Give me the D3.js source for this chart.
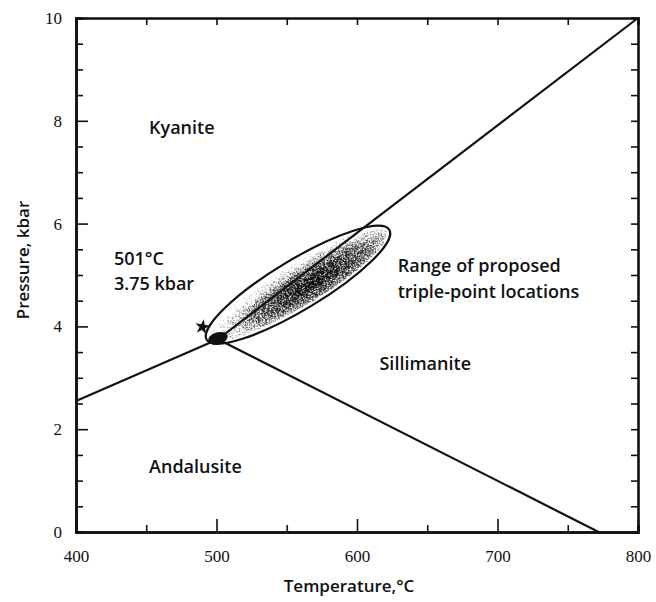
<!DOCTYPE html>
<meta charset="utf-8">
<script src="https://d3js.org/d3.v7.min.js"></script>
<style>
  body { margin: 0; background: #fff; }
  .tick text { font-family: "Liberation Serif", serif; font-size: 17px; fill: #111; }
  .lbl { font-family: "Open Sans", sans-serif; font-size: 18px; font-weight: 600; fill: #111; }
  .ttl { font-family: "Open Sans", sans-serif; font-size: 17px; font-weight: 600; fill: #111; }
</style>
<div id="chart"></div>
<script>
  // phase boundaries (temperature degC, pressure kbar)
  var triplePoint = [501, 3.75];
  var andKy = [[400, 2.55], triplePoint];
  var kySil = [triplePoint, [800, 10]];
  var andSil = [triplePoint, [772, 0]];
  // ends of the range of proposed triple points
  var rangeEnds = [[493, 3.74], [623, 5.88]];
  var starPoint = [490, 3.99];

  var xTicks = [400, 500, 600, 700, 800];
  var xMinor = [450, 550, 650, 750];
  var yTicks = [0, 2, 4, 6, 8, 10];
  var yMinor = [0.5, 1, 1.5, 2.5, 3, 3.5, 4.5, 5, 5.5, 6.5, 7, 7.5, 8.5, 9, 9.5];

  var labels = [
    {t: "Kyanite", T: 452, P: 7.75},
    {t: "501°C", T: 427, P: 5.19},
    {t: "3.75 kbar", T: 427, P: 4.70},
    {t: "Range of proposed", T: 629, P: 5.06},
    {t: "triple-point locations", T: 629, P: 4.56},
    {t: "Sillimanite", T: 616, P: 3.15},
    {t: "Andalusite", T: 452, P: 1.15}
  ];

  var W = 656, H = 602;
  var margin = {top: 18, right: 18, bottom: 70, left: 76};
  var width = W - margin.left - margin.right,
      height = H - margin.top - margin.bottom;

  var svg = d3.select("#chart").append("svg")
      .attr("width", W).attr("height", H);
  var defs = svg.append("defs");

  var g = svg.append("g")
      .attr("transform", "translate(" + margin.left + "," + margin.top + ")");

  var x = d3.scaleLinear().domain([400, 800]).range([0, width]);
  var y = d3.scaleLinear().domain([0, 10]).range([height, 0]);

  // stipple texture for the range ellipse
  var grad = defs.append("radialGradient").attr("id", "dens")
      .attr("cx", 0.56).attr("cy", 0.62).attr("r", 0.58);
  grad.append("stop").attr("offset", "0%").attr("stop-color", "#000").attr("stop-opacity", 1);
  grad.append("stop").attr("offset", "55%").attr("stop-color", "#000").attr("stop-opacity", 0.82);
  grad.append("stop").attr("offset", "100%").attr("stop-color", "#000").attr("stop-opacity", 0.4);

  var f = defs.append("filter").attr("id", "stip")
      .attr("x", 0).attr("y", 0).attr("width", 1).attr("height", 1);
  f.append("feTurbulence").attr("type", "fractalNoise")
      .attr("baseFrequency", 0.9).attr("numOctaves", 2).attr("seed", 3).attr("result", "n");
  f.append("feColorMatrix").attr("in", "n").attr("type", "matrix")
      .attr("values", "0 0 0 0 0  0 0 0 0 0  0 0 0 0 0  1 0 0 0 0").attr("result", "na");
  f.append("feComposite").attr("in", "na").attr("in2", "SourceGraphic")
      .attr("operator", "arithmetic")
      .attr("k1", 0).attr("k2", 6).attr("k3", 4).attr("k4", -5.6).attr("result", "d");
  f.append("feComposite").attr("in", "d").attr("in2", "SourceGraphic").attr("operator", "in");

  // ellipse geometry from its two ends
  var e0 = [x(rangeEnds[0][0]), y(rangeEnds[0][1])],
      e1 = [x(rangeEnds[1][0]), y(rangeEnds[1][1])];
  var ecx = (e0[0] + e1[0]) / 2, ecy = (e0[1] + e1[1]) / 2;
  var ea = Math.hypot(e1[0] - e0[0], e1[1] - e0[1]) / 2;
  var eang = Math.atan2(e1[1] - e0[1], e1[0] - e0[0]) * 180 / Math.PI;
  var eb = 25;

  var eg = g.append("g")
      .attr("transform", "translate(" + ecx + "," + ecy + ") rotate(" + eang + ")");
  eg.append("ellipse").attr("rx", ea - 3).attr("ry", eb - 3)
      .attr("fill", "url(#dens)").attr("filter", "url(#stip)");
  eg.append("ellipse").attr("rx", ea).attr("ry", eb)
      .attr("fill", "none").attr("stroke", "#111").attr("stroke-width", 2.2);

  // boundaries
  var line = d3.line().x(function(d) { return x(d[0]); }).y(function(d) { return y(d[1]); });
  [andKy, kySil, andSil].forEach(function(seg) {
    g.append("path").attr("d", line(seg))
      .attr("fill", "none").attr("stroke", "#111").attr("stroke-width", 2.2);
  });

  // triple point marker and star
  g.append("ellipse")
      .attr("transform", "translate(" + x(triplePoint[0]) + "," + (y(triplePoint[1]) - 1) + ") rotate(-15)")
      .attr("rx", 10).attr("ry", 6).attr("fill", "#111");
  g.append("path")
      .attr("transform", "translate(" + x(starPoint[0]) + "," + y(starPoint[1]) + ") rotate(10)")
      .attr("d", d3.symbol().type(d3.symbolStar).size(70)())
      .attr("fill", "#111");

  // axes
  function styleAxis(sel) {
    sel.select(".domain").attr("stroke", "#111").attr("stroke-width", 2.6);
    sel.selectAll(".tick line").attr("stroke", "#111").attr("stroke-width", 1.6);
  }
  g.append("g").attr("transform", "translate(0," + height + ")")
      .call(d3.axisBottom(x).tickValues(xTicks).tickSizeInner(-13).tickSizeOuter(0).tickPadding(18).tickFormat(d3.format("d")))
      .call(styleAxis);
  g.append("g").attr("transform", "translate(0," + height + ")")
      .call(d3.axisBottom(x).tickValues(xMinor).tickSize(-7).tickFormat(""))
      .call(styleAxis);
  g.append("g")
      .call(d3.axisTop(x).tickValues(xTicks.concat(xMinor)).tickSize(-7).tickFormat(""))
      .call(styleAxis);
  g.append("g")
      .call(d3.axisLeft(y).tickValues(yTicks).tickSizeInner(-12).tickSizeOuter(0).tickPadding(14).tickFormat(d3.format("d")))
      .call(styleAxis);
  g.append("g")
      .call(d3.axisLeft(y).tickValues(yMinor).tickSize(-7).tickFormat(""))
      .call(styleAxis);
  g.append("g").attr("transform", "translate(" + width + ",0)")
      .call(d3.axisRight(y).tickValues(yTicks.concat(yMinor)).tickSize(-7).tickFormat(""))
      .call(styleAxis);

  // region labels
  g.selectAll(".lbl").data(labels).enter().append("text")
      .attr("class", "lbl")
      .attr("x", function(d) { return x(d.T); })
      .attr("y", function(d) { return y(d.P); })
      .text(function(d) { return d.t; });

  // axis titles
  svg.append("text").attr("class", "ttl")
      .attr("x", 349).attr("y", 592).attr("text-anchor", "middle")
      .text("Temperature,°C");
  svg.append("text").attr("class", "ttl")
      .attr("transform", "translate(29,260) rotate(-90)").attr("text-anchor", "middle")
      .text("Pressure, kbar");
</script>
